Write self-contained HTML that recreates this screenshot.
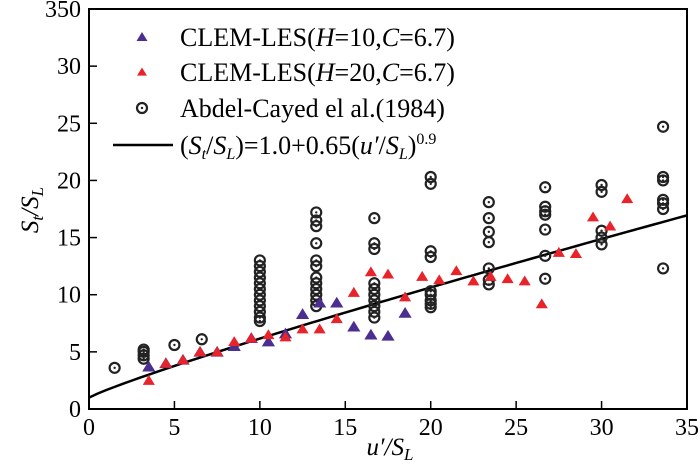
<!DOCTYPE html>
<html><head><meta charset="utf-8"><style>
body{margin:0;background:#fff}
svg{display:block;font-family:"Liberation Serif",serif}
</style></head><body>
<svg id="c" width="700" height="468" xmlns="http://www.w3.org/2000/svg"></svg>
<script>
const xTicks=[0,5,10,15,20,25,30,35];
const yTicks=[0,5,10,15,20,25,30,35];
const yTickLabels=["0","5","10","15","20","25","30","350"];
const purpleX=[3.5,4.5,5.5,6.5,7.5,8.5,9.5,10.5,11.5,12.5,13.5,14.5,15.5,16.5,17.5,18.5];
const purpleY=[3.7,4.0,4.3,5.0,5.0,5.5,6.2,5.9,6.6,8.3,9.3,9.3,7.2,6.5,6.4,8.4];
const redX=[3.5,4.5,5.5,6.5,7.5,8.5,9.5,10.5,11.5,12.5,13.5,14.5,15.5,16.5,17.5,18.5,19.5,20.5,21.5,22.5,23.5,24.5,25.5,26.5,27.5,28.5,29.5,30.5,31.5];
const redY=[2.5,4.0,4.3,5.0,5.0,5.9,6.2,6.5,6.3,7.0,7.0,7.9,10.2,12.0,11.8,9.8,11.6,11.3,12.1,11.2,11.6,11.4,11.2,9.2,13.7,13.6,16.8,16.0,18.4];
const circX=[1.5,3.2,3.2,3.2,3.2,5,6.6,10,10,10,10,10,10,10,10,10,10,10,10,13.3,13.3,13.3,13.3,13.3,13.3,13.3,13.3,13.3,13.3,13.3,13.3,16.7,16.7,16.7,16.7,16.7,16.7,16.7,16.7,16.7,16.7,20,20,20,20,20,20,20,20,20,23.4,23.4,23.4,23.4,23.4,23.4,23.4,26.7,26.7,26.7,26.7,26.7,26.7,26.7,30,30,30,30,30,33.6,33.6,33.6,33.6,33.6,33.6,33.6];
const circY=[3.6,4.4,4.7,5.0,5.2,5.6,6.1,7.7,8.0,8.5,9.0,9.5,10.0,10.5,11.0,11.5,12.0,12.5,13.0,9.0,9.5,10.0,10.5,11.0,11.5,12.5,13.0,14.5,16.0,16.5,17.2,8.0,8.5,9.0,9.5,10.0,10.5,11.0,14.0,14.5,16.7,8.9,9.2,9.5,10.0,10.3,13.3,13.8,19.7,20.3,10.9,11.3,12.3,14.6,15.5,16.7,18.1,11.4,13.4,15.7,17.0,17.3,17.7,19.4,14.4,15.0,15.6,19.0,19.6,12.3,17.5,18.0,18.3,20.0,20.3,24.7];
const NS="http://www.w3.org/2000/svg",svg=document.getElementById('c');
const L=89,R=687,T=9,B=409;
const sx=v=>L+(v-0)/35*(R-L), sy=v=>B-v/35*(B-T);
function mk(t,a,p){const e=document.createElementNS(NS,t);for(const k in a)e.setAttribute(k,a[k]);(p||svg).appendChild(e);return e;}
const fr=mk('rect',{x:L,y:T,width:R-L,height:B-T,fill:'none',stroke:'#000','stroke-width':2});


const gx=mk('g',{});


xTicks.forEach(v=>{mk('line',{x1:sx(v),x2:sx(v),y1:B,y2:B-8,stroke:'#000','stroke-width':1.5},gx);
 const t=mk('text',{x:sx(v),y:B+26,'font-size':24,'text-anchor':'middle'},gx);t.textContent=v;
 
 });
const gy=mk('g',{});


yTicks.forEach((v,i)=>{mk('line',{x1:L,x2:L+8,y1:sy(v),y2:sy(v),stroke:'#000','stroke-width':1.5},gy);
 const t=mk('text',{x:L-8,y:sy(v)+8,'font-size':24,'text-anchor':'end'},gy);t.textContent=yTickLabels[i];
 
 });
const xl=mk('text',{x:390,y:455,'font-size':25,'text-anchor':'middle','font-style':'italic'});
xl.innerHTML='u′/S<tspan font-size="17" dy="5">L</tspan>';


const yl=mk('text',{x:0,y:0,'font-size':25,'text-anchor':'middle','font-style':'italic',transform:'translate(38,210) rotate(-90)'});
yl.innerHTML='S<tspan font-size="17" dy="5">t</tspan><tspan dy="-5">/S</tspan><tspan font-size="17" dy="5">L</tspan>';


let d='';for(let i=0;i<=70;i++){const u=i/2;d+=(i?'L':'M')+sx(u)+','+sy(1+0.65*Math.pow(u,0.9));}
const fl=mk('path',{d:d,fill:'none',stroke:'#000','stroke-width':2.5});


function tri(x,y,c,s,p){return mk('path',{d:`M${x},${y-s}L${x+s*1.1},${y+s*0.8}L${x-s*1.1},${y+s*0.8}Z`,fill:c},p);}
function circ(x,y,p){const g=mk('g',{},p);mk('circle',{cx:x,cy:y,r:5,fill:'none',stroke:'#222','stroke-width':2.2},g);mk('circle',{cx:x,cy:y,r:1.2,fill:'#222'},g);return g;}
const gc=mk('g',{});


circX.forEach((v,i)=>{const e=circ(sx(v),sy(circY[i]),gc);
 
 });
const gp=mk('g',{});


purpleX.forEach((v,i)=>{const e=tri(sx(v),sy(purpleY[i]),'#4b2e8f',6,gp);
 
 });
const gr=mk('g',{});


redX.forEach((v,i)=>{const e=tri(sx(v),sy(redY[i]),'#e8232a',5.5,gr);
 
 });
const lg=mk('g',{});


const rows=[37,72,108,145];
tri(142,rows[0],'#4b2e8f',5,lg);tri(142,rows[1],'#e8232a',4.5,lg);circ(142,rows[2],lg);
mk('line',{x1:113,x2:173,y1:rows[3],y2:rows[3],stroke:'#000','stroke-width':2.5},lg);
const txt=['CLEM-LES(<tspan font-style="italic">H</tspan>=10,<tspan font-style="italic">C</tspan>=6.7)','CLEM-LES(<tspan font-style="italic">H</tspan>=20,<tspan font-style="italic">C</tspan>=6.7)','Abdel-Cayed el al.(1984)','(<tspan font-style="italic">S</tspan><tspan font-size="16" dy="5" font-style="italic">t</tspan><tspan dy="-5">/</tspan><tspan font-style="italic">S</tspan><tspan font-size="16" dy="5" font-style="italic">L</tspan><tspan dy="-5">)=1.0+0.65(</tspan><tspan font-style="italic">u′</tspan>/<tspan font-style="italic">S</tspan><tspan font-size="16" dy="5" font-style="italic">L</tspan><tspan dy="-5">)</tspan><tspan font-size="16" dy="-10">0.9</tspan>'];
txt.forEach((h,i)=>{const t=mk('text',{x:180,y:rows[i]+9,'font-size':26},lg);t.innerHTML=h;
 
 });
</script>
</body></html>
